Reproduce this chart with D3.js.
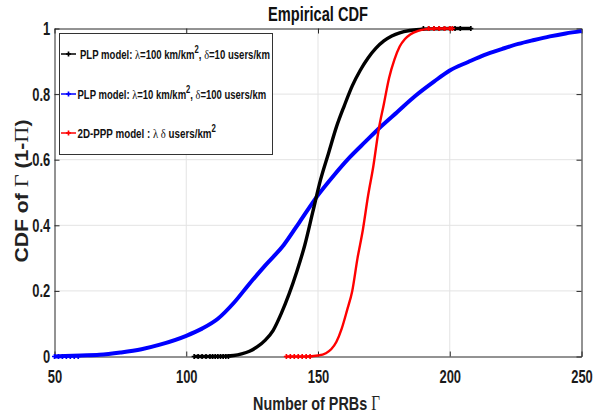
<!DOCTYPE html>
<html>
<head>
<meta charset="utf-8">
<script src="https://cdn.jsdelivr.net/npm/d3@7"></script>
<style>
  body { margin: 0; background: #fff; }
  svg text { font-family: "Liberation Sans", Arial, sans-serif; font-weight: bold; }
  .grk { font-family: "Liberation Serif", "DejaVu Serif", serif; font-weight: normal; }
</style>
</head>
<body>
<div id="graph"></div>
<script>
// values
var xTicks = [50, 100, 150, 200, 250];
var yTicks = [0, 0.2, 0.4, 0.6, 0.8, 1];

var blueX = [50, 60, 67, 75, 83, 90, 100, 106, 112, 118, 124, 130, 137, 143, 150, 156, 162, 168, 174, 180, 187, 194, 200, 207, 213, 220, 226, 232, 238, 244, 250];
var blueY = [0, 0.003, 0.005, 0.012, 0.022, 0.036, 0.063, 0.085, 0.115, 0.163, 0.222, 0.278, 0.34, 0.41, 0.492, 0.552, 0.607, 0.655, 0.702, 0.745, 0.795, 0.838, 0.872, 0.898, 0.919, 0.938, 0.953, 0.965, 0.976, 0.985, 0.992];

var blackX = [103, 110, 115, 118, 121, 124, 127, 130, 133, 136, 139, 142, 145, 148, 151, 154, 157, 160, 163, 166, 169, 172, 175, 178, 181, 185, 190, 195, 200, 208];
var blackY = [0, 0, 0.001, 0.003, 0.008, 0.016, 0.03, 0.05, 0.08, 0.13, 0.19, 0.26, 0.34, 0.44, 0.54, 0.62, 0.70, 0.765, 0.825, 0.872, 0.91, 0.94, 0.962, 0.977, 0.987, 0.994, 0.998, 0.999, 1, 1];

var redX = [138, 145, 150, 153, 155, 157, 159, 161, 163, 165, 167, 169, 171, 173, 175, 177, 179, 181, 183, 185, 188, 191, 195, 201];
var redY = [0, 0, 0.003, 0.01, 0.022, 0.045, 0.085, 0.14, 0.2, 0.3, 0.385, 0.49, 0.58, 0.69, 0.77, 0.85, 0.905, 0.945, 0.968, 0.982, 0.993, 0.998, 1, 1];

// sparse samples at the ends of each empirical CDF (shown as + markers)
var blackTailX = [103, 104.5, 106, 107.5, 109, 110, 111, 112, 113, 114, 115, 116, 190, 192, 194, 196, 198, 200, 202, 204, 208];
var blackTailY = [0, 0, 0, 0, 0, 0, 0, 0, 0, 0, 0, 0, 1, 1, 1, 1, 1, 1, 1, 1, 1];
var redTailX = [138, 139.5, 141, 142.5, 144, 145.5, 147, 192, 194, 196, 198, 200, 201];
var redTailY = [0, 0, 0, 0, 0, 0, 0, 1, 1, 1, 1, 1, 1];
var blueTailX = [50, 51.5, 53, 54.5, 56, 57.5, 59];
var blueTailY = [0, 0, 0, 0, 0, 0, 0];

var width = 606, height = 415;
var margin = {top: 28.5, right: 24.5, bottom: 58.5, left: 54.5};
var iw = width - margin.left - margin.right;
var ih = height - margin.top - margin.bottom;

var svg = d3.select('#graph').append('svg')
    .attr('width', width)
    .attr('height', height);

// squeeze a text horizontally (narrow Helvetica look) to a target width
function fit(sel, w, ax, ay) {
    var bw = sel.node().getBBox().width;
    var s = w / bw;
    sel.attr('transform', 'translate(' + ax + ',' + ay + ') scale(' + s + ',1) translate(' + (-ax) + ',' + (-ay) + ')');
}

var x = d3.scaleLinear().domain([50, 250]).range([0, iw]);
var y = d3.scaleLinear().domain([0, 1]).range([ih, 0]);

var g = svg.append('g').attr('transform', 'translate(' + margin.left + ',' + margin.top + ')');

// grid
g.append('g').selectAll('line').data(xTicks.slice(1, -1)).enter().append('line')
    .attr('x1', function (d) { return x(d); }).attr('x2', function (d) { return x(d); })
    .attr('y1', 0).attr('y2', ih)
    .attr('stroke', '#e3e3e3').attr('stroke-width', 1);
g.append('g').selectAll('line').data(yTicks.slice(1, -1)).enter().append('line')
    .attr('y1', function (d) { return y(d); }).attr('y2', function (d) { return y(d); })
    .attr('x1', 0).attr('x2', iw)
    .attr('stroke', '#e3e3e3').attr('stroke-width', 1);

// axes with inward ticks, box style
var axisColor = '#262626';
var xAxis = g.append('g').attr('transform', 'translate(0,' + ih + ')')
    .call(d3.axisBottom(x).tickValues(xTicks).tickSizeInner(-5).tickSizeOuter(0).tickPadding(13.5));
var yAxis = g.append('g')
    .call(d3.axisLeft(y).tickValues(yTicks).tickFormat(function (d) { return d === 0 || d === 1 ? d : d3.format('.1f')(d); })
        .tickSizeInner(-5).tickSizeOuter(0).tickPadding(6));
g.append('g').attr('transform', 'translate(' + iw + ',0)')
    .call(d3.axisRight(y).tickValues(yTicks).tickSizeInner(-5).tickSizeOuter(0).tickFormat(''));
g.append('g')
    .call(d3.axisTop(x).tickValues(xTicks).tickSizeInner(-5).tickSizeOuter(0).tickFormat(''));

g.selectAll('.domain').attr('stroke', axisColor);
g.selectAll('.tick line').attr('stroke', axisColor);
xAxis.selectAll('text').attr('font-size', 18.5).attr('fill', '#1a1a1a').attr('transform', 'scale(0.7,1)');
yAxis.selectAll('text').attr('font-size', 18.5).attr('fill', '#1a1a1a').attr('transform', 'scale(0.7,1)');

// curves
var series = [
    {xs: blueX, ys: blueY, tx: blueTailX, ty: blueTailY, color: '#0000ff', w: 4},
    {xs: blackX, ys: blackY, tx: blackTailX, ty: blackTailY, color: '#000000', w: 3.4},
    {xs: redX, ys: redY, tx: redTailX, ty: redTailY, color: '#ff0000', w: 2.4}
];

var line = d3.line()
    .x(function (d) { return x(d[0]); })
    .y(function (d) { return y(d[1]); })
    .curve(d3.curveMonotoneX);

series.forEach(function (s) {
    var pts = s.xs.map(function (v, i) { return [v, s.ys[i]]; });
    g.append('path').datum(pts)
        .attr('d', line)
        .attr('fill', 'none')
        .attr('stroke', s.color)
        .attr('stroke-width', s.w)
        .attr('stroke-linejoin', 'round');
    var tail = s.tx.map(function (v, i) { return [v, s.ty[i]]; });
    g.append('g').selectAll('path').data(tail).enter().append('path')
        .attr('d', d3.symbol().type(d3.symbolCross).size(14))
        .attr('transform', function (d) { return 'translate(' + x(d[0]) + ',' + y(d[1]) + ')'; })
        .attr('fill', s.color);
});

// legend
var lg = svg.append('g');
lg.append('rect')
    .attr('x', 59.5).attr('y', 33.5).attr('width', 213).attr('height', 121)
    .attr('fill', '#fff').attr('stroke', '#333').attr('stroke-width', 1);

var legendItems = [
    {color: '#000', yy: 54, tx: 80, w: 190, parts: [['PLP model:  ', 0], ['λ', 1], ['=100 km/km', 0], ['2', 2], [', ', 0], ['δ', 1], ['=10 users/km', 0]]},
    {color: '#0000ff', yy: 94, tx: 77.5, w: 189, parts: [['PLP model: ', 0], ['λ', 1], ['=10 km/km', 0], ['2', 2], [', ', 0], ['δ', 1], ['=100 users/km', 0]]},
    {color: '#ff0000', yy: 133, tx: 77.5, w: 139, parts: [['2D-PPP model :  ', 0], ['λ ', 1], ['δ', 1], [' users/km', 0], ['2', 2]]}
];

legendItems.forEach(function (it) {
    lg.append('line').attr('x1', 61).attr('x2', 76).attr('y1', it.yy).attr('y2', it.yy)
        .attr('stroke', it.color).attr('stroke-width', 1.5);
    lg.append('path').attr('d', d3.symbol().type(d3.symbolCross).size(14))
        .attr('transform', 'translate(68.5,' + it.yy + ')').attr('fill', it.color);
    var t = lg.append('text').attr('x', it.tx).attr('y', it.yy + 5).attr('font-size', 12.5).attr('fill', '#111');
    var prevSup = false;
    it.parts.forEach(function (p) {
        var ts = t.append('tspan').text(p[0]);
        if (p[1] === 1) ts.attr('class', 'grk').attr('font-size', 13.5);
        if (p[1] === 2) { ts.attr('dy', -6).attr('font-size', 10); prevSup = true; }
        else if (prevSup) { ts.attr('dy', 6); prevSup = false; }
    });
    fit(t, it.w, it.tx, it.yy);
});

// title and labels
var title = svg.append('text').attr('x', 318).attr('y', 21.5).attr('text-anchor', 'middle')
    .attr('font-size', 20).attr('fill', '#111').text('Empirical CDF');
fit(title, 100, 318, 21.5);

var xl = svg.append('text').attr('x', 316.5).attr('y', 410).attr('text-anchor', 'middle')
    .attr('font-size', 19).attr('fill', '#222');
xl.append('tspan').text('Number of PRBs ');
xl.append('tspan').attr('class', 'grk').attr('font-size', 20).text('Γ');
fit(xl, 127, 316.5, 410);

var ylg = svg.append('g').attr('transform', 'translate(28,191) rotate(-90)');
var yl = ylg.append('text').attr('x', 0).attr('y', 0)
    .attr('text-anchor', 'middle').attr('font-size', 18.5).attr('fill', '#222');
yl.append('tspan').text('CDF of ');
yl.append('tspan').attr('class', 'grk').attr('font-size', 19.5).text('Γ');
yl.append('tspan').text('   (1-');
yl.append('tspan').attr('class', 'grk').attr('font-size', 19.5).text('Π');
yl.append('tspan').text(')');
fit(yl, 143, 0, 0);
</script>
</body>
</html>
